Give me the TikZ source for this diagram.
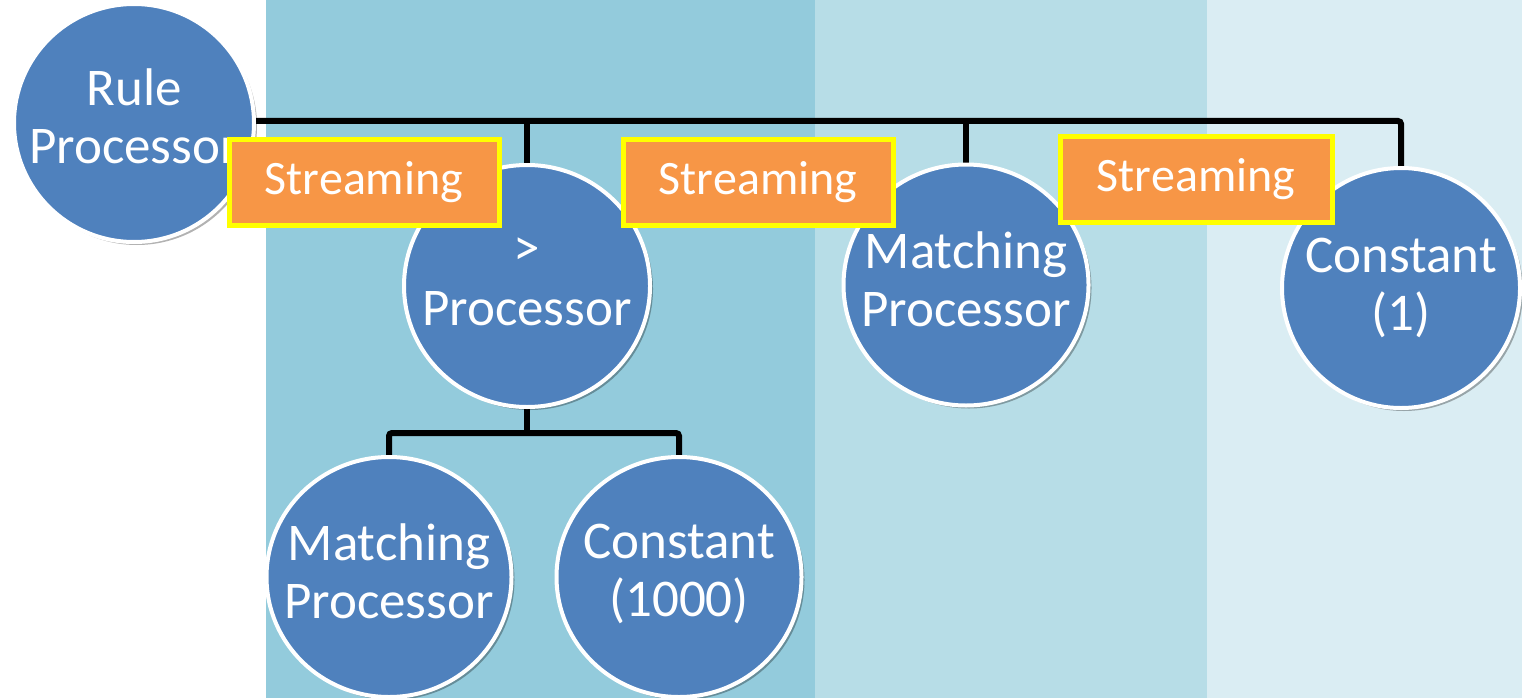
\documentclass[tikz,border=0pt]{standalone}
\usepackage{fontspec}
\setmainfont{Carlito}
\usetikzlibrary{shapes.geometric,shadows,backgrounds}

\definecolor{bandA}{HTML}{93CBDC}
\definecolor{bandB}{HTML}{B7DDE7}
\definecolor{bandC}{HTML}{DAEDF3}
\definecolor{procblue}{HTML}{4F81BD}
\definecolor{streamorange}{HTML}{F79646}
\definecolor{streamedge}{HTML}{FFFF00}

\tikzset{
  proc/.style={ellipse, draw=white, line width=4pt, fill=procblue,
    inner sep=0pt,
    drop shadow={shadow xshift=3pt, shadow yshift=-3pt, opacity=0.3, fill=black}},
  proctext/.style={text=white, align=center, inner sep=0pt,
    font=\fontsize{53}{58}\selectfont},
  streambox/.style={rectangle, draw=streamedge, line width=5pt,
    fill=streamorange, text=white, inner sep=0pt,
    font=\fontsize{48}{56}\selectfont},
  conn/.style={draw=black, line width=6pt, rounded corners=3pt},
}

\begin{document}
\begin{tikzpicture}[x=1pt, y=-1pt]
  \useasboundingbox (0,0) rectangle (1522,698);

  % background bands
  \begin{scope}[on background layer]
    \fill[white]  (0,0)    rectangle (266,698);
    \fill[bandA]  (266,0)  rectangle (815,698);
    \fill[bandB]  (815,0)  rectangle (1207,698);
    \fill[bandC]  (1207,0) rectangle (1522,698);
  \end{scope}

  % processor nodes
  \node[proc, minimum width=240pt, minimum height=238pt,
        label={[proctext, yshift=7pt]center:Rule\\Processor}] (rule) at (134,123) {};
  \node[proc, minimum width=246pt, minimum height=242pt,
        label={[proctext, yshift=4pt, font=\fontsize{53}{60}\selectfont]center:>\\Processor}] (gt) at (527,286) {};
  \node[proc, minimum width=245pt, minimum height=241pt,
        label={[proctext, yshift=6pt]center:Matching\\Processor}] (match1) at (966,285) {};
  \node[proc, minimum width=238pt, minimum height=240pt,
        label={[proctext, yshift=0pt]center:Constant\\(1)}] (const1) at (1401,288) {};
  \node[proc, minimum width=245pt, minimum height=240pt,
        label={[proctext, yshift=6pt]center:Matching\\Processor}] (match2) at (389,577) {};
  \node[proc, minimum width=245pt, minimum height=240pt,
        label={[proctext, yshift=3pt]center:Constant\\(1000)}] (const2) at (679,577) {};

  % connectors, kept behind the nodes
  \coordinate (bus) at ([yshift=2pt]rule.center);
  \coordinate (split) at ([yshift=-24pt]gt.south);
  \begin{scope}[on background layer]
    \draw[conn] (bus) -| (const1.north);
    \draw[conn] (gt.north) -- (gt.north |- bus);
    \draw[conn] (match1.north) -- (match1.north |- bus);
    \draw[conn] (gt.south) -- (split);
    \draw[conn] (match2.north) |- (split) -| (const2.north);
  \end{scope}

  % streaming labels
  \node[streambox, minimum width=270pt, minimum height=86pt] (s1) at (364,182) {Streaming};
  \node[streambox, minimum width=270pt, minimum height=86pt] (s2) at (758,182) {Streaming};
  \node[streambox, minimum width=272pt, minimum height=86pt] (s3) at (1196,179) {Streaming};
\end{tikzpicture}
\end{document}
